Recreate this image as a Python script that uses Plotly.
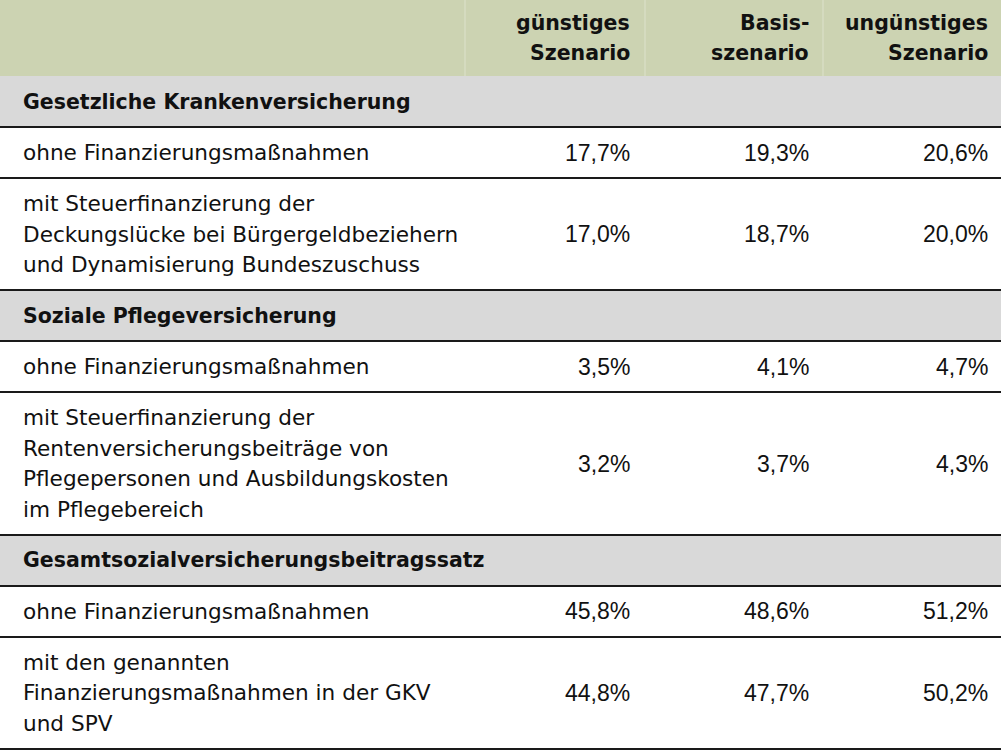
import plotly.graph_objects as go

# ---------------- data ----------------
col_headers = ["günstiges\nSzenario", "Basis-\nszenario", "ungünstiges\nSzenario"]
row_kinds = ["section", "data", "data", "section", "data", "data", "section", "data", "data"]
row_labels = [
    "Gesetzliche Krankenversicherung",
    "ohne Finanzierungsmaßnahmen",
    "mit Steuerfinanzierung der\nDeckungslücke bei Bürgergeldbeziehern\nund Dynamisierung Bundeszuschuss",
    "Soziale Pflegeversicherung",
    "ohne Finanzierungsmaßnahmen",
    "mit Steuerfinanzierung der\nRentenversicherungsbeiträge von\nPflegepersonen und Ausbildungskosten\nim Pflegebereich",
    "Gesamtsozialversicherungsbeitragssatz",
    "ohne Finanzierungsmaßnahmen",
    "mit den genannten\nFinanzierungsmaßnahmen in der GKV\nund SPV",
]
guenstig = [None, 17.7, 17.0, None, 3.5, 3.2, None, 45.8, 44.8]
basis = [None, 19.3, 18.7, None, 4.1, 3.7, None, 48.6, 47.7]
unguenstig = [None, 20.6, 20.0, None, 4.7, 4.3, None, 51.2, 50.2]

# ---------------- layout / style ----------------
W, H = 1004, 750
TABLE_RIGHT = 1001
col_edges = [0, 465, 645, 823, TABLE_RIGHT]
col_text_right = [632, 811, 990]
label_x = 21
header_h = 76
section_h = 51
line_h = 30.7
single_h = 51
pad_multi = 20
FONT = "DejaVu Sans"
FS_BOLD = 20.5
FS = 21.6
NUM_FONT = "Liberation Sans"
NUM_FS = 23
TXT = "#111111"
GREEN = "#CCD3B2"
GRAY = "#D9D9D9"


def fmt(v):
    return f"{v:.1f}".replace(".", ",") + "%"


shapes = []
annotations = []


def add_text(x, y, text, anchor, bold=False, family=FONT, size=None):
    if size is None:
        size = FS_BOLD if bold else FS
    annotations.append(dict(
        x=x, y=y, xref="x", yref="y", text=f"<b>{text}</b>" if bold else text,
        showarrow=False, xanchor=anchor, yanchor="middle",
        font=dict(family=family, size=size, color=TXT),
    ))


def add_lines(lines, x, y_center, anchor, bold=False):
    n = len(lines)
    for i, ln in enumerate(lines):
        y = y_center + (i - (n - 1) / 2) * line_h
        add_text(x, y, ln, anchor, bold)


# header
shapes.append(dict(type="rect", x0=0, x1=TABLE_RIGHT, y0=0, y1=header_h,
                   fillcolor=GREEN, line_width=0, layer="below"))
for xe in col_edges[1:-1]:
    shapes.append(dict(type="line", x0=xe, x1=xe, y0=0, y1=header_h,
                       line=dict(color="#DDE2CC", width=1)))
for j, h in enumerate(col_headers):
    add_lines(h.split("\n"), col_text_right[j], header_h / 2, "right", bold=True)

y = header_h
for i, kind in enumerate(row_kinds):
    lines = row_labels[i].split("\n")
    if kind == "section":
        h = section_h
        shapes.append(dict(type="rect", x0=0, x1=TABLE_RIGHT, y0=y, y1=y + h,
                           fillcolor=GRAY, line_width=0, layer="below"))
        add_lines(lines, label_x, y + h / 2, "left", bold=True)
    else:
        h = single_h if len(lines) == 1 else len(lines) * line_h + pad_multi
        add_lines(lines, label_x, y + h / 2, "left")
        for j, series in enumerate([guenstig, basis, unguenstig]):
            add_text(col_text_right[j], y + h / 2, fmt(series[i]), "right",
                     family=NUM_FONT, size=NUM_FS)
    y += h
    shapes.append(dict(type="line", x0=0, x1=TABLE_RIGHT, y0=y, y1=y,
                       line=dict(color="#1a1a1a", width=2)))

fig = go.Figure()
fig.update_layout(
    width=W, height=H,
    margin=dict(l=0, r=0, t=0, b=0),
    paper_bgcolor="white", plot_bgcolor="white",
    xaxis=dict(range=[0, W], visible=False, fixedrange=True),
    yaxis=dict(range=[H, 0], visible=False, fixedrange=True),
    shapes=shapes, annotations=annotations, showlegend=False,
)
fig.write_html("out.html", config={"displayModeBar": False},
               post_script="document.body.style.margin='0px';document.body.style.overflow='hidden';")
